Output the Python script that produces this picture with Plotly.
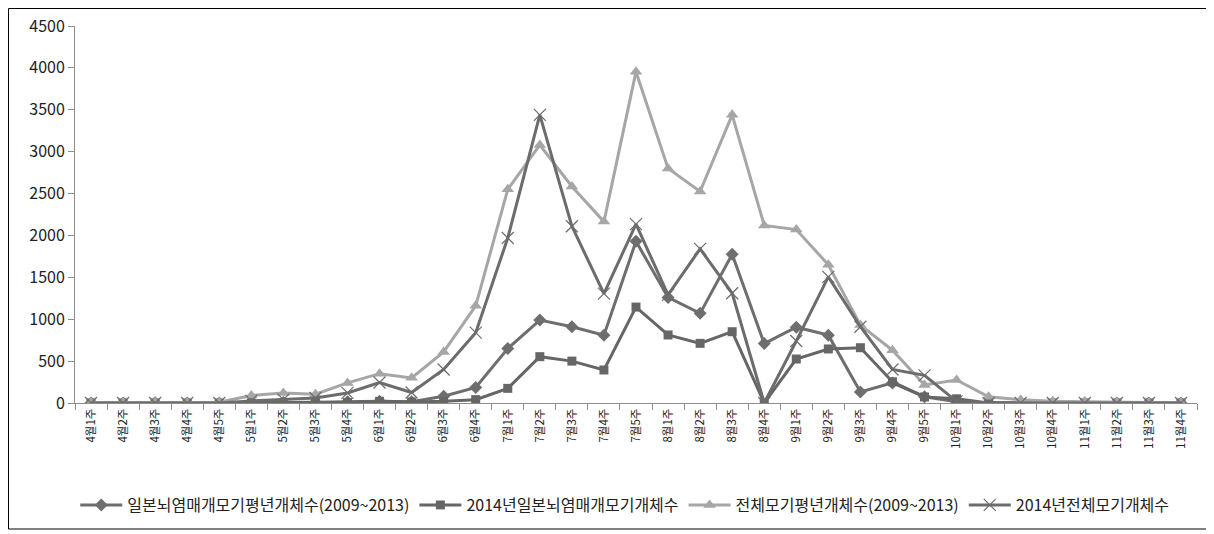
import plotly.graph_objects as go

weeks = ["4월1주","4월2주","4월3주","4월4주","4월5주",
         "5월1주","5월2주","5월3주","5월4주",
         "6월1주","6월2주","6월3주","6월4주",
         "7월1주","7월2주","7월3주","7월4주","7월5주",
         "8월1주","8월2주","8월3주","8월4주",
         "9월1주","9월2주","9월3주","9월4주","9월5주",
         "10월1주","10월2주","10월3주","10월4주",
         "11월1주","11월2주","11월3주","11월4주"]

je_avg = [0, 0, 2, 0, 1, 2, 5, 10, 15, 20, 15, 80, 185, 650, 990, 910, 810, 1930,
          1260, 1070, 1775, 710, 905, 810, 131, 240, 75, 15, 3, 0, 0, 0, 0, 0, 0]
je_2014 = [0, 0, 0, 0, 0, 0, 2, 3, 5, 20, 12, 20, 40, 175, 553, 500, 394, 1145,
           812, 712, 851, 0, 525, 645, 660, 253, 72, 50, 0, 0, 0, 0, 0, 0, 0]
total_avg = [5, 5, 8, 5, 8, 90, 120, 105, 240, 350, 300, 610, 1160, 2550, 3080, 2585, 2165, 3955,
             2800, 2525, 3440, 2120, 2070, 1650, 930, 630, 215, 275, 75, 40, 20, 15, 8, 5, 5]
total_2014 = [0, 0, 0, 0, 0, 25, 40, 60, 120, 245, 125, 400, 840, 1970, 3440, 2110, 1305, 2135,
              1290, 1840, 1310, 0, 740, 1505, 910, 400, 330, 20, 0, 0, 0, 0, 0, 0, 0]

names = ["일본뇌염매개모기평년개체수(2009~2013)", "2014년일본뇌염매개모기개체수",
         "전체모기평년개체수(2009~2013)", "2014년전체모기개체수"]

fig = go.Figure()
fig.add_trace(go.Scatter(x=weeks, y=je_avg, name=names[0], mode="lines+markers",
                         line=dict(color="#6e6e6e", width=3),
                         marker=dict(symbol="diamond", size=10, color="#6e6e6e")))
fig.add_trace(go.Scatter(x=weeks, y=je_2014, name=names[1], mode="lines+markers",
                         line=dict(color="#666666", width=3),
                         marker=dict(symbol="square", size=9, color="#666666")))
fig.add_trace(go.Scatter(x=weeks, y=total_avg, name=names[2], mode="lines+markers",
                         line=dict(color="#a6a6a6", width=3),
                         marker=dict(symbol="triangle-up", size=11, color="#a6a6a6")))
fig.add_trace(go.Scatter(x=weeks, y=total_2014, name=names[3], mode="lines+markers",
                         line=dict(color="#6c6c6c", width=3),
                         marker=dict(symbol="x-thin-open", size=12,
                                     line=dict(color="#7a7a7a", width=1.2))))

# page has an 8px body margin; figure is sized/positioned to compensate
W, H = 1206, 526
ML, MR, MT, MB = 67, 17, 18, 131
PW, PH = W - ML - MR, H - MT - MB

fig.update_layout(
    width=W, height=H,
    margin=dict(l=ML, r=MR, t=MT, b=MB, autoexpand=False),
    plot_bgcolor="white", paper_bgcolor="white",
    font=dict(family="Noto Sans CJK KR", color="#222222"),
    showlegend=True,
    legend=dict(orientation="h", x=0.49, xanchor="center", y=(PH + MT - 497 + 0) / PH - 0 if False else (H - MB - 497) / PH,
                yanchor="middle",
                font=dict(size=16, color="#222222"), itemwidth=42,
                traceorder="normal"),
    shapes=[dict(type="rect", xref="paper", yref="paper",
                 x0=(0.5 - ML) / PW, x1=(1201 - ML) / PW,
                 y0=(H - MB - 521) / PH, y1=(H - MB - 0.5) / PH,
                 line=dict(color="#000000", width=1), fillcolor="rgba(0,0,0,0)",
                 layer="below")],
)
fig.update_xaxes(type="category", range=[-0.5, len(weeks) - 0.5], automargin=False,
                 showline=True, linecolor="#8c8c8c", linewidth=1,
                 ticks="outside", tickson="boundaries", ticklen=6, tickcolor="#8c8c8c",
                 tickangle=-90, tickfont=dict(size=11.5, color="#222222"),
                 showgrid=False, zeroline=False)
fig.update_yaxes(range=[0, 4500], dtick=500, showline=True, linecolor="#8c8c8c",
                 linewidth=1, ticks="outside", ticklen=6, tickcolor="#8c8c8c", automargin=False,
                 tickfont=dict(size=16, color="#222222"), showgrid=False, zeroline=False)

fig.write_html("out.html")
